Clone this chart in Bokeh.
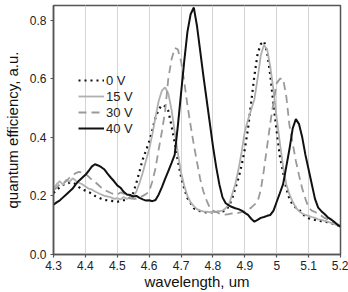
import numpy as np
from bokeh.plotting import figure
from bokeh.models import Legend, LegendItem, Range1d, FixedTicker
from bokeh.embed import file_html
from bokeh.resources import INLINE

# Wavelength sampling (um), 0.01 um steps from 4.30 to 5.20
wavelength = np.round(np.arange(430, 521) / 100.0, 2)

# Quantum efficiency (a.u.) at each bias voltage
qe_0v = [0.210, 0.220, 0.230, 0.238, 0.242, 0.245, 0.246, 0.240, 0.230, 0.222,
         0.218, 0.213, 0.208, 0.200, 0.196, 0.190, 0.186, 0.185, 0.183, 0.182,
         0.180, 0.182, 0.185, 0.188, 0.195, 0.210, 0.245, 0.285, 0.325, 0.355,
         0.385, 0.425, 0.468, 0.495, 0.510, 0.506, 0.490, 0.440, 0.383, 0.320,
         0.265, 0.225, 0.192, 0.175, 0.158, 0.152, 0.148, 0.145, 0.144, 0.145,
         0.144, 0.146, 0.145, 0.147, 0.150, 0.165, 0.190, 0.225, 0.260, 0.305,
         0.360, 0.430, 0.520, 0.610, 0.685, 0.718, 0.728, 0.690, 0.610, 0.510,
         0.420, 0.335, 0.280, 0.225, 0.190, 0.170, 0.160, 0.153, 0.140, 0.130,
         0.124, 0.120, 0.118, 0.116, 0.114, 0.112, 0.110, 0.107, 0.104, 0.100,
         0.097]

qe_15v = [0.222, 0.240, 0.250, 0.238, 0.255, 0.248, 0.260, 0.252, 0.245, 0.240,
          0.232, 0.225, 0.222, 0.215, 0.210, 0.205, 0.200, 0.198, 0.195, 0.190,
          0.192, 0.188, 0.196, 0.190, 0.194, 0.198, 0.215, 0.245, 0.280, 0.320,
          0.360, 0.410, 0.470, 0.525, 0.560, 0.570, 0.550, 0.495, 0.420, 0.345,
          0.280, 0.235, 0.200, 0.178, 0.165, 0.155, 0.150, 0.147, 0.146, 0.145,
          0.146, 0.145, 0.148, 0.150, 0.158, 0.170, 0.205, 0.240, 0.290, 0.350,
          0.420, 0.460, 0.495, 0.530, 0.600, 0.680, 0.715, 0.700, 0.640, 0.560,
          0.465, 0.380, 0.300, 0.240, 0.205, 0.180, 0.160, 0.148, 0.140, 0.135,
          0.132, 0.128, 0.125, 0.120, 0.118, 0.115, 0.112, 0.108, 0.104, 0.100,
          0.096]

qe_30v = [0.220, 0.228, 0.240, 0.245, 0.250, 0.262, 0.270, 0.278, 0.282, 0.280,
          0.275, 0.266, 0.255, 0.248, 0.238, 0.228, 0.220, 0.215, 0.210, 0.206,
          0.204, 0.212, 0.208, 0.200, 0.192, 0.190, 0.190, 0.194, 0.200, 0.206,
          0.215, 0.250, 0.295, 0.360, 0.420, 0.490, 0.600, 0.665, 0.705, 0.700,
          0.660, 0.590, 0.510, 0.440, 0.375, 0.315, 0.258, 0.215, 0.185, 0.160,
          0.150, 0.145, 0.140, 0.138, 0.136, 0.138, 0.140, 0.138, 0.142, 0.145,
          0.148, 0.153, 0.160, 0.170, 0.180, 0.220, 0.290, 0.370, 0.450, 0.520,
          0.585, 0.600, 0.600, 0.540, 0.440, 0.380, 0.320, 0.270, 0.225, 0.190,
          0.160, 0.150, 0.145, 0.138, 0.132, 0.125, 0.120, 0.115, 0.110, 0.104,
          0.098]

qe_40v = [0.170, 0.178, 0.185, 0.195, 0.205, 0.215, 0.225, 0.240, 0.252, 0.262,
          0.272, 0.285, 0.300, 0.308, 0.304, 0.298, 0.290, 0.275, 0.262, 0.250,
          0.236, 0.228, 0.214, 0.205, 0.203, 0.198, 0.200, 0.193, 0.188, 0.184,
          0.185, 0.182, 0.186, 0.205, 0.230, 0.258, 0.285, 0.312, 0.340, 0.440,
          0.550, 0.660, 0.760, 0.820, 0.843, 0.780, 0.695, 0.610, 0.530, 0.450,
          0.370, 0.300, 0.240, 0.195, 0.175, 0.168, 0.162, 0.158, 0.155, 0.150,
          0.142, 0.135, 0.122, 0.112, 0.118, 0.125, 0.128, 0.132, 0.135, 0.150,
          0.180, 0.210, 0.240, 0.300, 0.360, 0.430, 0.462, 0.445, 0.400, 0.340,
          0.290, 0.240, 0.190, 0.160, 0.148, 0.138, 0.127, 0.120, 0.112, 0.102,
          0.095]

x_ticks = [4.3, 4.4, 4.5, 4.6, 4.7, 4.8, 4.9, 5.0, 5.1, 5.2]
x_tick_labels = ["4.3", "4.4", "4.5", "4.6", "4.7", "4.8", "4.9", "5", "5.1", "5.2"]
y_ticks = [0.0, 0.2, 0.4, 0.6, 0.8]
y_tick_labels = ["0.0", "0.2", "0.4", "0.6", "0.8"]
series_labels = ["0 V", "15 V", "30 V", "40 V"]

FONT = "Liberation Sans"
AXIS_COLOR = "#555555"

p = figure(width=348, height=292, output_backend="svg", toolbar_location=None,
           x_range=Range1d(4.3, 5.2), y_range=Range1d(0.0, 0.85),
           min_border_left=49, min_border_right=8, min_border_top=5,
           min_border_bottom=35)

p.background_fill_color = "white"
p.border_fill_color = "white"
p.outline_line_color = AXIS_COLOR
p.outline_line_width = 1.5

# vertical grid only
p.xgrid.grid_line_color = "#d4d4d4"
p.xgrid.grid_line_width = 1
p.ygrid.grid_line_color = None

p.xaxis.ticker = FixedTicker(ticks=x_ticks)
p.xaxis.major_label_overrides = dict(zip(x_ticks, x_tick_labels))
p.yaxis.ticker = FixedTicker(ticks=y_ticks)
p.yaxis.major_label_overrides = dict(zip(y_ticks, y_tick_labels))
p.xgrid.ticker = FixedTicker(ticks=x_ticks)

for ax in (p.xaxis, p.yaxis):
    ax.axis_line_color = AXIS_COLOR
    ax.axis_line_width = 1.5
    ax.major_tick_line_color = AXIS_COLOR
    ax.major_tick_line_width = 1.2
    ax.major_tick_in = 0
    ax.major_tick_out = 3
    ax.minor_tick_line_color = None
    ax.major_label_text_font = FONT
    ax.major_label_text_font_size = "12px"
    ax.major_label_text_color = "#222222"
    ax.axis_label_text_font = FONT
    ax.axis_label_text_font_size = "15px"
    ax.axis_label_text_font_style = "normal"
    ax.axis_label_text_color = "#111111"

p.xaxis.axis_label = "wavelength, um"
p.yaxis.axis_label = "quantum efficiency, a.u."
p.xaxis.major_label_standoff = 3
p.xaxis.axis_label_standoff = 0
p.yaxis.major_label_standoff = 4
p.yaxis.axis_label_standoff = 6

r0 = p.line(wavelength, qe_0v, line_color="#111111", line_width=2.2, line_dash="2 4")
r15 = p.line(wavelength, qe_15v, line_color="#b0b0b0", line_width=1.8)
r30 = p.line(wavelength, qe_30v, line_color="#9a9a9a", line_width=1.8, line_dash="8 5")
r40 = p.line(wavelength, qe_40v, line_color="#111111", line_width=2.0)

legend = Legend(
    items=[LegendItem(label=lab, renderers=[r]) for lab, r in
           zip(series_labels, [r0, r15, r30, r40])],
    location=(25, 118),
    padding=0, spacing=0, margin=0,
    glyph_width=26, glyph_height=16, label_height=16,
    label_standoff=2,
    label_text_font=FONT, label_text_font_size="13px", label_text_color="#222222",
    border_line_color=None, background_fill_alpha=0,
)
p.add_layout(legend)

open("out.html", "w").write(file_html(p, INLINE))
